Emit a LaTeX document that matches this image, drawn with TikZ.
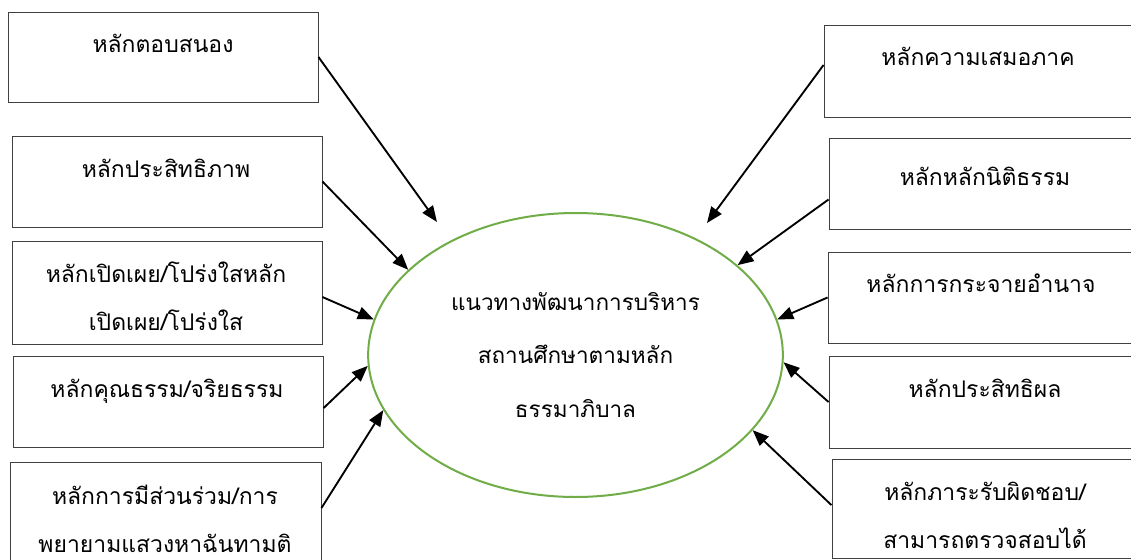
\documentclass[tikz,border=0pt]{standalone}
\usepackage{fontspec}
\newfontfamily\thaifont[Script=Thai]{Loma}
\usepackage{tikz}
\usetikzlibrary{arrows.meta,shapes.geometric}
\usepackage{xcolor}
\definecolor{goalgreen}{RGB}{112,173,71}
\definecolor{boxgray}{RGB}{64,64,64}
\tikzstyle{arrow} = [line width=1.4pt,-{Triangle[length=12pt,width=9.5pt]},color=black]
\tikzstyle{principle} = [rectangle, draw=boxgray, line width=0.7pt, inner sep=0pt]
\tikzstyle{ptext} = [anchor=base, align=center, inner sep=0pt, font=\thaifont\fontsize{17.2}{36}\selectfont]
\tikzstyle{goal} = [ellipse, draw=goalgreen, line width=1.5pt, minimum width=311pt, minimum height=213pt, inner sep=0pt, align=center, font=\thaifont\fontsize{16.9}{40}\selectfont]
\tikzset{boxsize/.style 2 args={minimum width=#1*0.75pt, minimum height=#2*0.75pt}}

\begin{document}
\begin{tikzpicture}[x=0.75pt,y=-0.75pt]
\fill[white] (0,0) rectangle (1131,560);
\useasboundingbox (0,0) rectangle (1131,560);
\clip (0,0) rectangle (1131,560);

% Centre
\node[goal] (goal) at (575.5,355) {แนวทางพัฒนาการบริหาร\\สถานศึกษาตามหลัก\\ธรรมาภิบาล};

% Left principles
\node[principle, boxsize={310}{90}] (respond) at (163,57) {};
\node[principle, boxsize={310}{91}] (efficiency) at (167,181.5) {};
\node[principle, boxsize={310}{103}] (transparency) at (167,292.5) {};
\node[principle, boxsize={310}{91}] (ethics) at (168,401.5) {};
\node[principle, boxsize={311}{104}] (participation) at (165.5,514) {};

\node[ptext] (t-respond) at (163,53) {หลักตอบสนอง};
\node[ptext] (t-efficiency) at (166,177) {หลักประสิทธิภาพ};
\node[ptext] (t-transparency) at (166,330) {หลักเปิดเผย/โปร่งใสหลัก\\เปิดเผย/โปร่งใส};
\node[ptext] (t-ethics) at (167,397) {หลักคุณธรรม/จริยธรรม};
\node[ptext] (t-participation) at (165,552) {หลักการมีส่วนร่วม/การ\\พยายามแสวงหาฉันทามติ};

% Right principles
\node[principle, boxsize={316}{92}] (equity) at (982,71) {};
\node[principle, boxsize={311}{91}] (rulelaw) at (984.5,183.5) {};
\node[principle, boxsize={312}{91}] (decentral) at (984,297.5) {};
\node[principle, boxsize={311}{92}] (effectiveness) at (984.5,402) {};
\node[principle, boxsize={308}{99}] (accountability) at (986,508.5) {};

\node[ptext] (t-equity) at (978,65) {หลักความเสมอภาค};
\node[ptext] (t-rulelaw) at (985,185) {หลักหลักนิติธรรม};
\node[ptext] (t-decentral) at (981,292) {หลักการกระจายอำนาจ};
\node[ptext] (t-effectiveness) at (985,397) {หลักประสิทธิผล};
\node[ptext] (t-accountability) at (985,548) {หลักภาระรับผิดชอบ/\\สามารถตรวจสอบได้};

% Arrows
\coordinate (tip-respond) at (437,222);
\coordinate (tip-equity) at (707,223);
\draw[arrow] (respond.east) -- (tip-respond);
\draw[arrow] (efficiency.east) -- (goal.153.6);
\draw[arrow] ([yshift=-3.4pt]transparency.east) -- (goal.170.3);
\draw[arrow] ([yshift=-5pt]ethics.east) -- (goal.183.3);
\draw[arrow] ([yshift=4.5pt]participation.east) -- (goal.196.9);
\draw[arrow] ([yshift=4.5pt]equity.west) -- (tip-equity);
\draw[arrow] ([yshift=-12pt]rulelaw.west) -- (goal.29.4);
\draw[arrow] (decentral.west) -- (goal.10.9);
\draw[arrow] (effectiveness.west) -- (goal.358);
\draw[arrow] ([yshift=2.5pt]accountability.west) -- (goal.337);
\end{tikzpicture}
\end{document}
